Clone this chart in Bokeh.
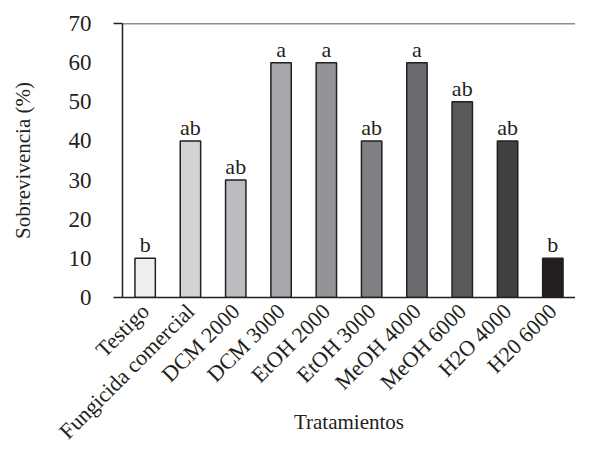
import math
from bokeh.plotting import figure
from bokeh.models import ColumnDataSource, Range1d, FixedTicker, Span
from bokeh.core.properties import value
from bokeh.embed import file_html
from bokeh.resources import INLINE

categories = ["Testigo", "Fungicida comercial", "DCM 2000", "DCM 3000", "EtOH 2000",
              "EtOH 3000", "MeOH 4000", "MeOH 6000", "H2O 4000", "H20 6000"]
survival = [10, 40, 30, 60, 60, 40, 60, 50, 40, 10]
letters = ["b", "ab", "ab", "a", "a", "ab", "a", "ab", "ab", "b"]
colors = ["#efeff0", "#d2d3d5", "#bbbcbf", "#a7a8ab", "#939497",
          "#808184", "#6a6b6e", "#58595b", "#414142", "#231f20"]
y_ticks = [0, 10, 20, 30, 40, 50, 60, 70]

FONT = "Liberation Serif"
INK = "#231f20"

src = ColumnDataSource(dict(cat=categories, val=survival, letter=letters, color=colors))

p = figure(x_range=categories, y_range=Range1d(0, 70), width=575, height=443,
           output_backend="svg", toolbar_location=None,
           min_border_left=122, min_border_right=0, min_border_top=23,
           min_border_bottom=146)

p.vbar(x="cat", top="val", width=0.45, fill_color="color", line_color=INK,
       line_width=1.5, source=src)
p.text(x="cat", y="val", text="letter", source=src, text_align="center",
       text_baseline="bottom", y_offset=-1, text_font=value(FONT),
       text_font_size="22px", text_color=INK)

p.outline_line_color = None
p.xgrid.grid_line_color = None
p.ygrid.grid_line_color = None
p.background_fill_color = "white"
p.border_fill_color = "white"

p.add_layout(Span(location=70, dimension="width", line_color=INK, line_width=1.5))

ya = p.yaxis[0]
ya.ticker = FixedTicker(ticks=y_ticks, minor_ticks=[0, 70])
ya.major_tick_out = 0
ya.major_tick_in = 0
ya.minor_tick_out = 9
ya.minor_tick_in = 0
ya.minor_tick_line_color = INK
ya.minor_tick_line_width = 1.5
ya.axis_line_color = INK
ya.axis_line_width = 1.5
ya.major_label_standoff = 22
ya.major_label_text_font = FONT
ya.major_label_text_font_size = "23px"
ya.major_label_text_color = INK
ya.axis_label = "Sobrevivencia (%)"
ya.axis_label_text_font = FONT
ya.axis_label_text_font_size = "21px"
ya.axis_label_text_font_style = "normal"
ya.axis_label_text_color = INK
ya.axis_label_standoff = 31

xa = p.xaxis[0]
xa.major_tick_line_color = None
xa.minor_tick_line_color = None
xa.axis_line_color = INK
xa.axis_line_width = 1.5
xa.major_label_orientation = math.pi / 4
xa.major_label_standoff = 4
xa.major_label_text_font = FONT
xa.major_label_text_font_size = "22px"
xa.major_label_text_color = INK
xa.axis_label = "Tratamientos"
xa.axis_label_text_font = FONT
xa.axis_label_text_font_size = "21px"
xa.axis_label_text_font_style = "normal"
xa.axis_label_text_color = INK
xa.axis_label_standoff = -46

open("out.html", "w").write(file_html(p, INLINE))
